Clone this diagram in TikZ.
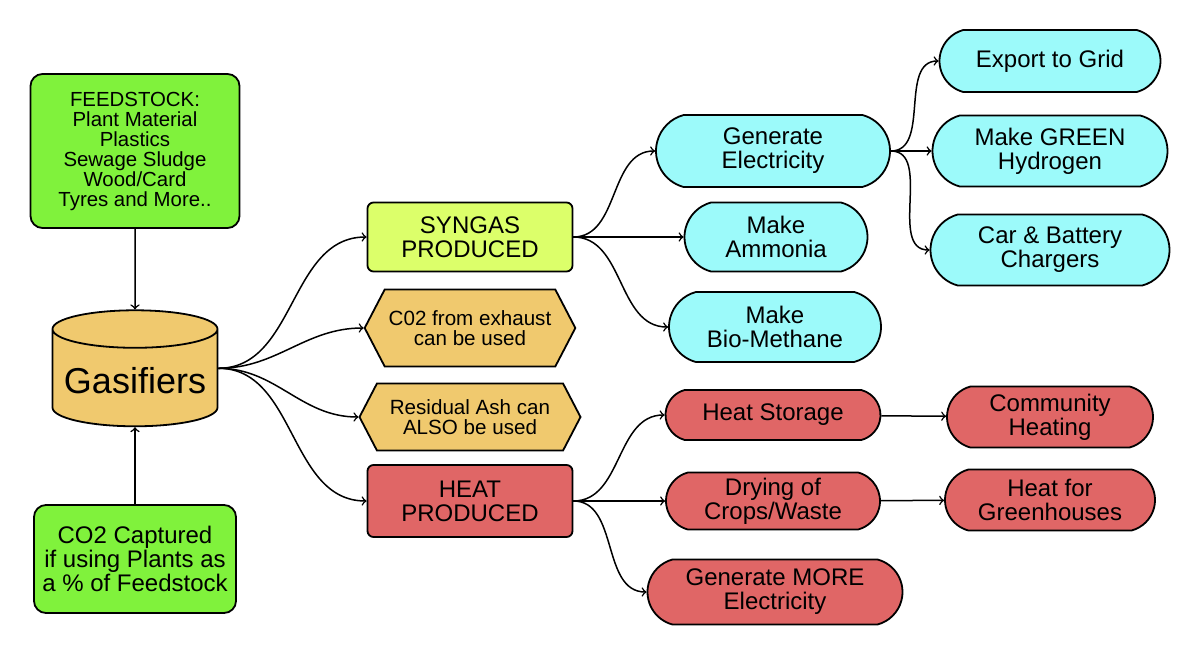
\documentclass[tikz,border=0pt]{standalone}
\usepackage{fontspec}
\setmainfont{Liberation Sans}
\usetikzlibrary{shapes.geometric,shapes.symbols,shapes.misc}
\definecolor{leaf}{HTML}{80F23C}
\definecolor{lime}{HTML}{DCFF6A}
\definecolor{sand}{HTML}{F0C96E}
\definecolor{aqua}{HTML}{9CFAFA}
\definecolor{brick}{HTML}{E06666}
\tikzset{
  box/.style={draw, line width=0.9pt, align=center, inner sep=2pt},
  feedbox/.style={box, fill=leaf, rounded corners=6pt},
  gasbox/.style={box, cylinder, shape border rotate=90, aspect=0.25, fill=sand},
  outbox/.style={box, rounded corners=3pt, font=\fontsize{12}{12}\selectfont},
  hexbox/.style={box, signal, signal to=west and east, signal pointer angle=125, fill=sand, font=\fontsize{10.3}{10.3}\selectfont},
  usebox/.style={box, rounded rectangle, rounded rectangle arc length=150, font=\fontsize{12}{12}\selectfont},
  link/.style={->, line width=0.75pt}
}
\begin{document}
\begin{tikzpicture}[x=0.5pt, y=-0.5pt]
\useasboundingbox (0,0) rectangle (1200,658);
%Entrees et gazeificateur
\node[feedbox, minimum width=104.5pt, minimum height=77pt, font=\fontsize{10.2}{10}\selectfont] (Feed) at (135,151) {FEEDSTOCK:\\Plant Material\\Plastics\\Sewage Sludge\\Wood/Card\\Tyres and More..};
\node[feedbox, minimum width=101pt, minimum height=54pt, font=\fontsize{12}{12}\selectfont] (CO2) at (135,559) {CO2 Captured\\if using Plants as\\a \% of Feedstock};
\node[gasbox, minimum width=82.5pt, minimum height=58pt, font=\fontsize{18}{18}\selectfont] (Gas) at (135,381) {Gasifiers};
\coordinate (GasOut) at (Gas.shape center -| Gas.east);

%Produits
\node[outbox, fill=lime, minimum width=102.5pt, minimum height=34.5pt] (Syngas) at (470,237) {SYNGAS\\PRODUCED};
\node[hexbox, minimum width=104.5pt, minimum height=38.5pt] (Exhaust) at (470,328) {C02 from exhaust\\can be used};
\node[hexbox, minimum width=110.5pt, minimum height=33.5pt] (Ash) at (470,417) {Residual Ash can\\ALSO be used};
\node[outbox, fill=brick, minimum width=102.5pt, minimum height=36pt] (Heat) at (470,501) {HEAT\\PRODUCED};

%Usages du syngas
\node[usebox, fill=aqua, minimum width=121pt, minimum height=36pt] (GenElec) at (773,151) {Generate\\Electricity};
\node[usebox, fill=aqua, minimum width=95.5pt, minimum height=34.5pt] (Ammonia) at (776,237) {Make\\Ammonia};
\node[usebox, fill=aqua, minimum width=110pt, minimum height=35pt] (BioMeth) at (775,327) {Make\\Bio-Methane};
\node[usebox, fill=aqua, minimum width=114.5pt, minimum height=31pt] (Grid) at (1050,61) {Export to Grid};
\node[usebox, fill=aqua, minimum width=121.5pt, minimum height=35.5pt] (Hydro) at (1050,151) {Make GREEN\\Hydrogen};
\node[usebox, fill=aqua, minimum width=123.5pt, minimum height=35.5pt] (Charge) at (1050,250) {Car \& Battery\\Chargers};

%Usages de la chaleur
\node[usebox, fill=brick, minimum width=111.5pt, minimum height=25pt] (Store) at (773,415) {Heat Storage};
\node[usebox, fill=brick, minimum width=107pt, minimum height=30.5pt] (Commu) at (1050,417) {Community\\Heating};
\node[usebox, fill=brick, minimum width=111pt, minimum height=28.5pt] (Dry) at (773,501) {Drying of\\Crops/Waste};
\node[usebox, fill=brick, minimum width=109pt, minimum height=30.5pt] (Green) at (1050,500) {Heat for\\Greenhouses};
\node[usebox, fill=brick, minimum width=131.5pt, minimum height=32.5pt] (MoreElec) at (775,592) {Generate MORE\\Electricity};

%Fleches
\draw[link] (Feed) -- (Gas);
\draw[link] (CO2) -- (Gas);

\draw[link] (GasOut) to[out=0, in=180] (Syngas.west);
\draw[link] (GasOut) to[out=0, in=180] (Exhaust.west);
\draw[link] (GasOut) to[out=0, in=180] (Ash.west);
\draw[link] (GasOut) to[out=0, in=180] (Heat.west);

\draw[link] (Syngas.east) to[out=0, in=180] (GenElec.west);
\draw[link] (Syngas.east) to[out=0, in=180] (Ammonia.west);
\draw[link] (Syngas.east) to[out=0, in=180] (BioMeth.west);

\draw[link] (GenElec.east) to[out=0, in=180] (Grid.west);
\draw[link] (GenElec.east) to[out=0, in=180] (Hydro.west);
\draw[link] (GenElec.east) to[out=0, in=180] (Charge.west);

\draw[link] (Heat.east) to[out=0, in=180] (Store.west);
\draw[link] (Heat.east) to[out=0, in=180] (Dry.west);
\draw[link] (Heat.east) to[out=0, in=180] (MoreElec.west);

\draw[link] (Store) -- (Commu);
\draw[link] (Dry) -- (Green);
\end{tikzpicture}
\end{document}
